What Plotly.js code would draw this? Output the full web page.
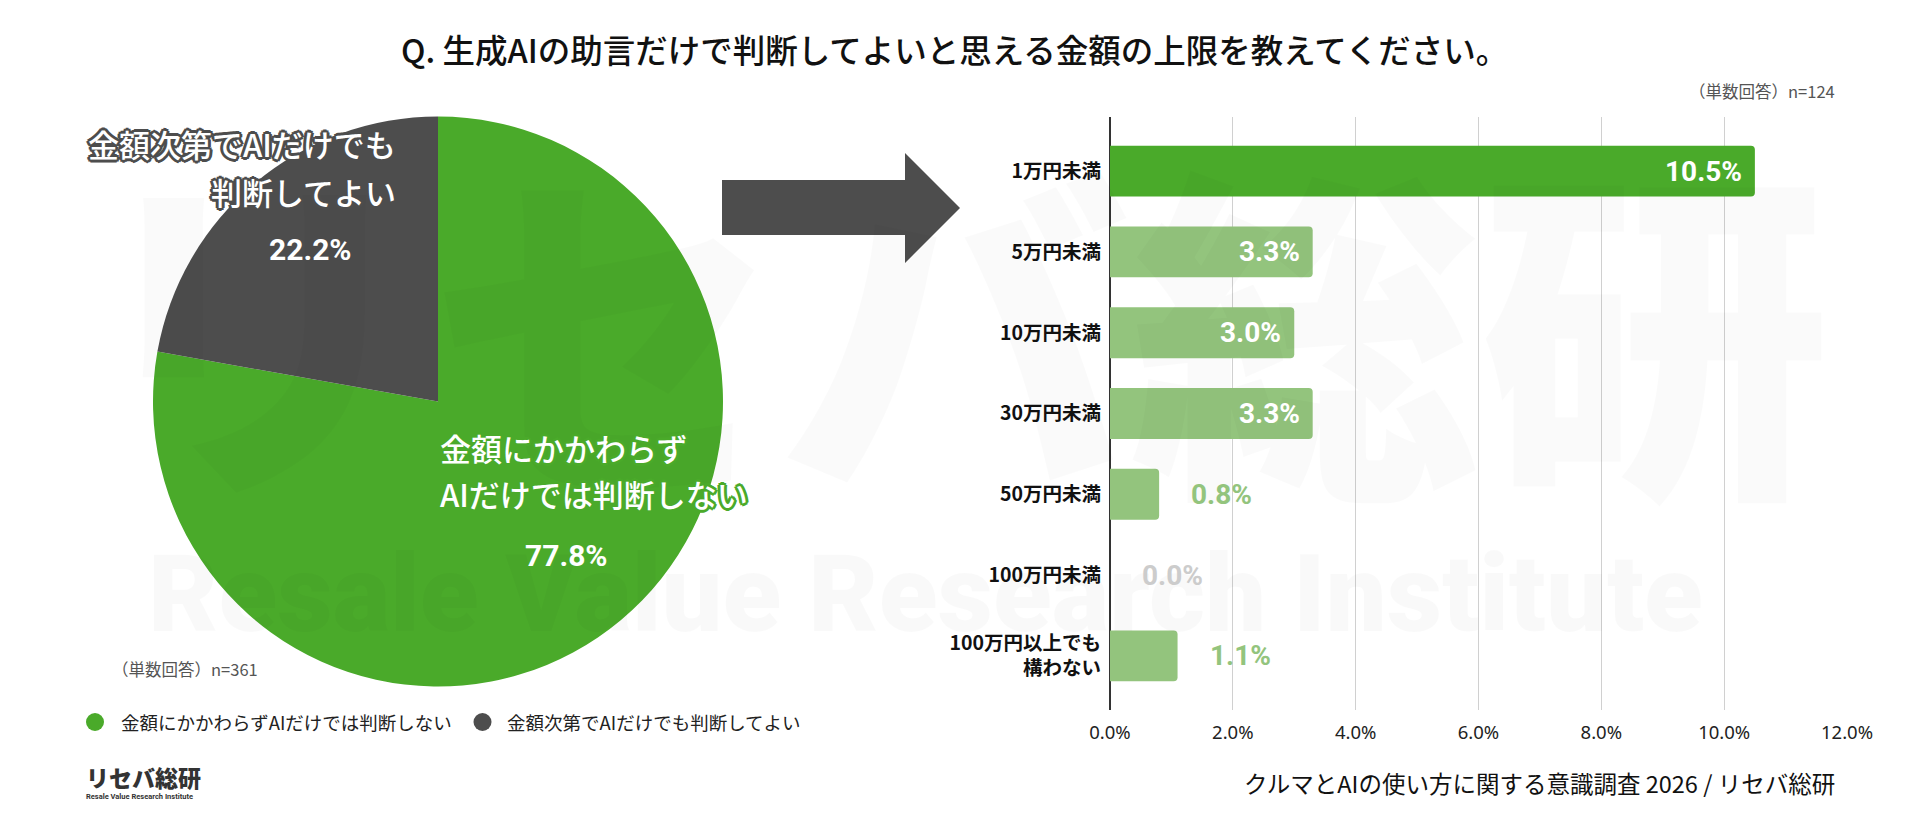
<!DOCTYPE html>
<html>
<head>
<meta charset="utf-8">
<script src="https://cdn.plot.ly/plotly-3.0.1.min.js"></script>
<style>html,body{margin:0;padding:0;background:#fff;}#chart{width:1920px;height:817px;}</style>
</head>
<body>
<div id="chart"></div>
<script>
// ---- data ----
const titleText = "Q. 生成AIの助言だけで判断してよいと思える金額の上限を教えてください。";
const pieLabels = ["金額にかかわらずAIだけでは判断しない", "金額次第でAIだけでも判断してよい"];
const pieLabelLines = [["金額にかかわらず", "AIだけでは判断しない"], ["金額次第でAIだけでも", "判断してよい"]];
const pieValues = [77.8, 22.2];
const pieColors = ["#4aaa2a", "#4d4d4d"];
const pieNote = "（単数回答）n=361";

const barCategories = ["1万円未満", "5万円未満", "10万円未満", "30万円未満", "50万円未満", "100万円未満", "100万円以上でも<br>構わない"];
const barValues = [10.5, 3.3, 3.0, 3.3, 0.8, 0.0, 1.1];
const barColors = ["#4aaa2a", "#93c47d", "#93c47d", "#93c47d", "#93c47d", "#93c47d", "#93c47d"];
const barNote = "（単数回答）n=124";
const xTickVals = [0, 2, 4, 6, 8, 10, 12];
const sourceText = "クルマとAIの使い方に関する意識調査 2026 / リセバ総研";
const logoText = "リセバ総研";
const logoSub = "Resale Value Research Institute";

// ---- helpers (pixel -> paper) ----
const W = 1920, H = 817;
const px = v => v / W;
const py = v => 1 - v / H;
const JP = "Noto Sans CJK JP, Noto Sans, sans-serif";
const NUM = "Roboto, Liberation Sans, Arial, sans-serif";

const traces = [
  {
    type: "pie",
    labels: pieLabels,
    values: pieValues,
    marker: {colors: pieColors, line: {width: 0}},
    sort: false,
    direction: "clockwise",
    rotation: 0,
    textinfo: "none",
    hoverinfo: "label+percent",
    showlegend: false,
    domain: {x: [px(153), px(723)], y: [py(687), py(116)]}
  },
  {
    type: "bar",
    orientation: "h",
    x: barValues,
    y: barCategories,
    marker: {color: barColors, line: {width: 0}},
    width: 0.63,
    textposition: "none",
    hoverinfo: "x+y",
    showlegend: false,
    xaxis: "x",
    yaxis: "y"
  }
];

const annotations = [];
const shapes = [];

// watermark
annotations.push({xref: "paper", yref: "paper", x: px(955), y: py(318), text: "リセバ総研", showarrow: false,
  font: {family: JP, size: 350, color: "rgba(0,0,0,0.02)", weight: 900}, xanchor: "center", yanchor: "middle"});
annotations.push({xref: "paper", yref: "paper", x: px(925), y: py(594), text: "Resale Value Research Institute", showarrow: false,
  font: {family: NUM, size: 108, color: "rgba(0,0,0,0.022)", weight: 900}, xanchor: "center", yanchor: "middle"});

// title
annotations.push({xref: "paper", yref: "paper", x: 0.497, y: py(49), text: titleText, showarrow: false,
  font: {family: JP, size: 32.5, color: "#111", weight: 500}, xanchor: "center", yanchor: "middle"});

// pie labels
const total = pieValues.reduce((a, b) => a + b, 0);
const pct = v => (v / total * 100).toFixed(1) + "%";
const outline = c => `2px 0 0 ${c}, -2px 0 0 ${c}, 0 2px 0 ${c}, 0 -2px 0 ${c}, 2px 2px 0 ${c}, -2px -2px 0 ${c}, 2px -2px 0 ${c}, -2px 2px 0 ${c}, 3px 0 0 ${c}, -3px 0 0 ${c}, 0 3px 0 ${c}, 0 -3px 0 ${c}`;
// green slice
annotations.push({xref: "paper", yref: "paper", x: px(438), y: py(448), text: pieLabelLines[0][0], showarrow: false,
  xanchor: "left", yanchor: "middle", font: {family: JP, size: 31, color: "#fff", weight: 500, shadow: outline("#4aaa2a")}});
annotations.push({xref: "paper", yref: "paper", x: px(438), y: py(493), text: pieLabelLines[0][1], showarrow: false,
  xanchor: "left", yanchor: "middle", font: {family: JP, size: 31, color: "#fff", weight: 500, shadow: outline("#4aaa2a")}});
annotations.push({xref: "paper", yref: "paper", x: px(566), y: py(555), text: pct(pieValues[0]), showarrow: false,
  xanchor: "center", yanchor: "middle", font: {family: NUM, size: 30, color: "#fff", weight: "bold"}});
// dark slice
annotations.push({xref: "paper", yref: "paper", x: px(398), y: py(143), text: pieLabelLines[1][0], showarrow: false,
  xanchor: "right", yanchor: "middle", font: {family: JP, size: 31, color: "#fff", weight: 500, shadow: outline("#4d4d4d")}});
annotations.push({xref: "paper", yref: "paper", x: px(398), y: py(192), text: pieLabelLines[1][1], showarrow: false,
  xanchor: "right", yanchor: "middle", font: {family: JP, size: 31, color: "#fff", weight: 500, shadow: outline("#4d4d4d")}});
annotations.push({xref: "paper", yref: "paper", x: px(310), y: py(249), text: pct(pieValues[1]), showarrow: false,
  xanchor: "center", yanchor: "middle", font: {family: NUM, size: 30, color: "#fff", weight: "bold"}});

// pie note
annotations.push({xref: "paper", yref: "paper", x: px(110), y: py(669), text: pieNote, showarrow: false,
  xanchor: "left", yanchor: "middle", font: {family: JP, size: 16.5, color: "#555"}});

// legend (custom)
const legX = [95, 482.5];
const legTextX = [119, 505];
pieLabels.forEach((lab, i) => {
  shapes.push({type: "circle", xref: "paper", yref: "paper", xsizemode: "pixel", ysizemode: "pixel",
    xanchor: px(legX[i]), yanchor: py(722), x0: -9, x1: 9, y0: -9, y1: 9,
    fillcolor: pieColors[i], line: {width: 0}});
  annotations.push({xref: "paper", yref: "paper", x: px(legTextX[i]), y: py(722), text: lab, showarrow: false,
    xanchor: "left", yanchor: "middle", font: {family: JP, size: 18.5, color: "#222"}});
});

// logo
annotations.push({xref: "paper", yref: "paper", x: px(84), y: py(777), text: logoText, showarrow: false,
  xanchor: "left", yanchor: "middle", font: {family: JP, size: 23, color: "#333", weight: 900}});
annotations.push({xref: "paper", yref: "paper", x: px(84), y: py(796), text: logoSub, showarrow: false,
  xanchor: "left", yanchor: "middle", font: {family: NUM, size: 7.5, color: "#333", weight: "bold"}});

// arrow
shapes.push({type: "path", xref: "paper", yref: "paper",
  path: `M ${px(722)} ${py(180)} L ${px(905)} ${py(180)} L ${px(905)} ${py(153)} L ${px(960)} ${py(208)} L ${px(905)} ${py(263)} L ${px(905)} ${py(235)} L ${px(722)} ${py(235)} Z`,
  fillcolor: "#4d4d4d", line: {width: 0}});

// bar notes
annotations.push({xref: "paper", yref: "paper", x: px(1837), y: py(91), text: barNote, showarrow: false,
  xanchor: "right", yanchor: "middle", font: {family: JP, size: 16.5, color: "#555"}});
annotations.push({xref: "paper", yref: "paper", x: px(1837), y: py(783), text: sourceText, showarrow: false,
  xanchor: "right", yanchor: "middle", font: {family: JP, size: 23.5, color: "#111", weight: 400}});

// bar value labels
barValues.forEach((v, i) => {
  const inside = v >= 2;
  annotations.push({xref: "x", yref: "y", x: v, y: barCategories[i], text: v.toFixed(1) + "%", showarrow: false,
    xanchor: inside ? "right" : "left", yanchor: "middle", xshift: inside ? -11 : 30,
    font: {family: NUM, size: 28, weight: "bold", color: inside ? "#fff" : (v === 0 ? "#cccccc" : "#93c47d")}});
});

const layout = {
  width: W, height: H,
  margin: {l: 0, r: 0, t: 0, b: 0},
  paper_bgcolor: "#fff", plot_bgcolor: "rgba(0,0,0,0)",
  barcornerradius: 4,
  xaxis: {domain: [px(1110), px(1847)], range: [0, 12], tickvals: xTickVals,
    ticktext: xTickVals.map(v => v.toFixed(1) + "%"),
    showgrid: true, gridcolor: "#d0d0d0", gridwidth: 1,
    zeroline: true, zerolinecolor: "#333", zerolinewidth: 1.5,
    showline: false, ticks: "", ticklabelstandoff: 9,
    tickfont: {family: "Noto Sans, Roboto, sans-serif", size: 18.5, color: "#222"}, fixedrange: true},
  yaxis: {domain: [py(710), py(117)], type: "category", categoryorder: "array", categoryarray: barCategories,
    range: [6.67, -0.67], showgrid: false, zeroline: false, showline: false, ticks: "",
    ticklabelstandoff: 8,
    tickfont: {family: JP, size: 19.5, color: "#111", weight: "bold"}, fixedrange: true},
  annotations: annotations,
  shapes: shapes,
  showlegend: false
};

Plotly.newPlot("chart", traces, layout, {displayModeBar: false, staticPlot: false});
</script>
</body>
</html>
